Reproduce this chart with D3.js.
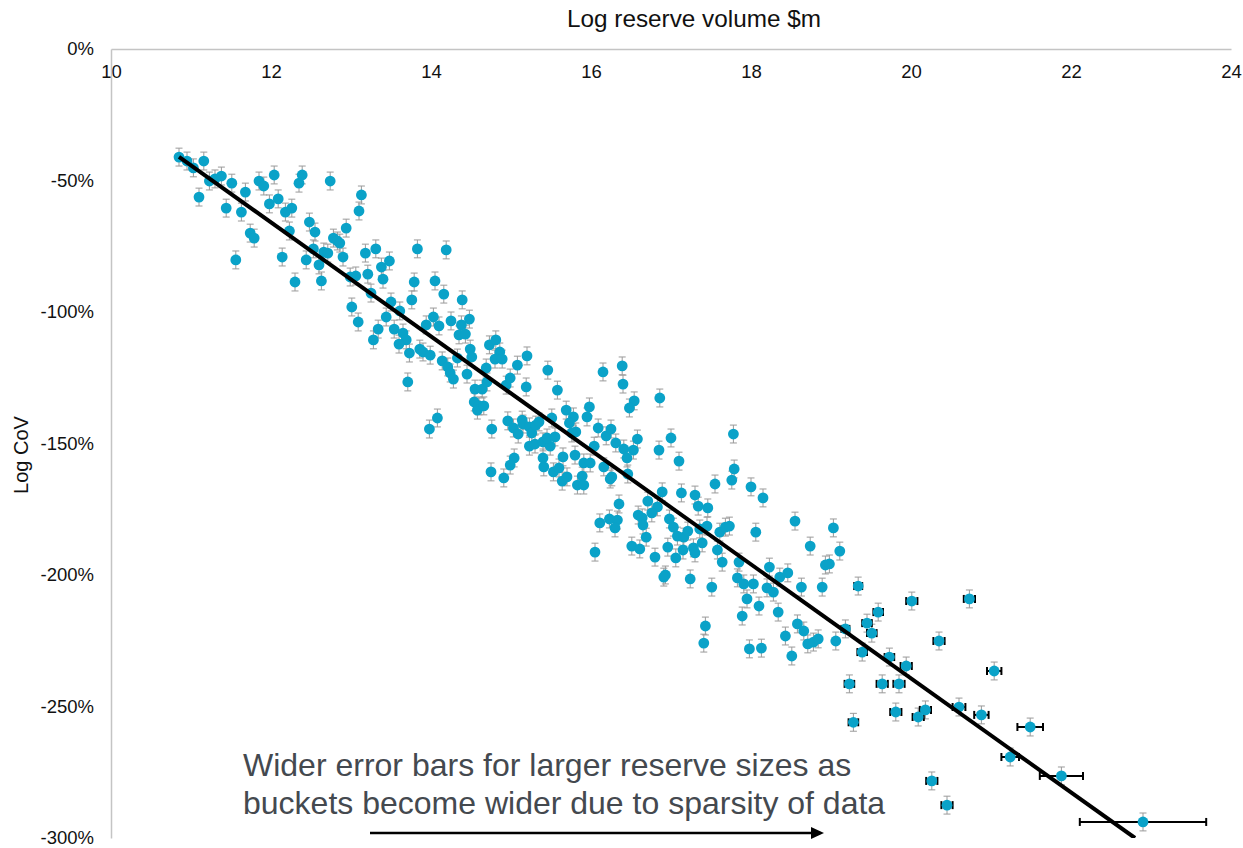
<!DOCTYPE html>
<html>
<head>
<meta charset="utf-8">
<script src="https://cdn.jsdelivr.net/npm/d3@7"></script>
<style>
  html, body { margin: 0; padding: 0; background: #fff; }
  svg { display: block; font-family: "Liberation Sans", Arial, sans-serif; }
</style>
</head>
<body>
<svg id="chart" width="1243" height="848"></svg>
<script>
// Axis ticks
const xTicks = [10, 12, 14, 16, 18, 20, 22, 24];
const yTicks = [0, -50, -100, -150, -200, -250, -300];

// Bucketed observations: [log reserve volume, log CoV %, optional bucket half-width]
const points = [
[10.85,-41.1],[10.95,-42.6],[11.03,-45.2],[11.16,-42.6],[11.23,-50.2],[11.30,-49.4],[11.38,-48.3],[11.10,-56.3],[11.44,-60.5],[11.51,-51.0],
[11.63,-62.0],[11.68,-54.4],[11.56,-80.2],[11.74,-70.0],[11.79,-71.9],[11.85,-50.2],[11.91,-52.1],[12.04,-47.9],[11.98,-58.9],[12.09,-57.0],
[12.18,-62.0],[12.26,-60.5],[12.23,-69.2],[12.14,-79.1],[12.35,-51.0],[12.39,-47.9],[12.74,-50.2],[12.48,-65.8],[12.55,-69.6],[12.53,-76.0],
[12.44,-80.2],[12.60,-82.1],[12.30,-88.6],[12.63,-88.2],[12.66,-77.2],[12.71,-77.6],[12.78,-71.9],[12.83,-73.0],[12.86,-73.8],[12.94,-68.1],
[12.90,-79.1],[13.13,-55.5],[13.10,-61.6],[13.18,-77.6],[13.31,-76.0],[13.38,-82.9],[13.48,-80.6],[13.40,-87.5],[13.21,-85.6],[13.06,-86.3],
[12.99,-86.7],[13.25,-92.8],[13.01,-98.1],[13.09,-103.8],[13.28,-110.6],[13.34,-106.5],[13.44,-101.9],[13.50,-96.2],[13.54,-106.5],[13.61,-99.6],
[13.65,-108.0],[13.69,-110.6],[13.60,-112.2],[13.73,-115.6],[13.71,-126.6],[13.76,-95.4],[13.79,-88.6],[13.83,-76.0],[14.05,-88.2],[14.16,-93.2],
[14.19,-76.4],[13.86,-114.1],[13.90,-115.2],[13.99,-116.4],[13.94,-104.9],[14.03,-101.9],[14.10,-105.3],[14.14,-118.6],[14.21,-120.9],[14.24,-123.2],
[14.25,-103.4],
[14.28,-125.5],[14.38,-104.9],[14.35,-108.7],[14.43,-108.4],[14.39,-95.4],[14.48,-102.7],[14.33,-117.5],[14.45,-123.6],[14.49,-114.1],[14.51,-117.1],
[14.08,-140.3],[13.98,-144.5],[14.54,-134.2],[14.60,-135.7],[14.58,-137.3],[14.66,-135.7],[14.55,-129.3],[14.64,-129.3],[14.69,-121.3],[14.70,-126.6],
[14.73,-112.5],[14.81,-110.6],[14.86,-115.2],[14.80,-117.9],[14.89,-117.9],[14.76,-144.5],[14.94,-127.8],[14.99,-125.1],[15.08,-120.2],[15.20,-116.7],
[15.19,-128.5],[15.46,-122.1],[15.58,-129.7],[14.96,-141.4],[15.03,-144.1],[15.09,-146.4],[15.14,-141.1],[15.15,-142.6],[15.23,-143.7],[15.26,-146.0],
[15.31,-143.0],[15.35,-141.8],[15.23,-151.0],[15.30,-150.2],[15.40,-149.4],[15.49,-151.0],[15.45,-147.9],[15.55,-147.5],[15.51,-140.3],[15.69,-137.3],
[15.78,-139.9],[15.73,-142.2],[15.81,-145.6],[15.76,-146.0],[15.04,-155.5],[15.40,-155.5],[15.65,-155.1],[15.80,-154.4],
[14.75,-160.8],[14.91,-163.1],[14.99,-158.2],[15.95,-139.9],[15.98,-136.1],[16.15,-122.8],[16.39,-120.5],[16.40,-127.4],[16.54,-133.8],[16.48,-136.5],
[16.86,-132.7],[17.00,-147.9],[17.10,-156.7],[16.85,-152.5],[16.09,-144.1],[16.19,-147.1],[16.25,-144.5],[16.31,-149.8],[16.41,-152.1],[16.53,-152.5],
[16.58,-148.3],[16.04,-151.0],[16.45,-155.5],[16.46,-161.6],[16.26,-162.7],[16.24,-163.5],[16.16,-158.9],[15.91,-157.4],[15.99,-157.4],[15.41,-158.9],
[15.53,-160.8],[15.60,-159.3],[15.64,-164.3],[15.70,-162.7],[15.89,-162.4],[15.83,-165.8],[15.91,-165.8],[16.89,-168.4],[17.13,-168.8],[17.30,-169.6],
[17.34,-173.8],[17.46,-174.5],[16.35,-173.0],[16.71,-171.9],[16.83,-174.1],[16.76,-176.4],[16.59,-177.2],[16.64,-178.3],[16.65,-181.0],[16.11,-180.2],
[16.23,-178.7],[16.33,-179.1],[16.30,-182.1],[16.69,-185.6],[16.98,-178.7],[17.03,-181.8],[17.08,-185.2],[17.16,-185.6],[17.21,-183.3],[17.45,-181.4],
[17.39,-187.8],[17.28,-189.7],[17.15,-190.5],[16.96,-189.4],[16.51,-189.0],[16.61,-190.1],[16.05,-191.3],[16.80,-193.2],[17.06,-193.5],
[16.93,-200.0],[16.91,-200.8],[17.30,-191.6],[17.36,-182.5],[17.55,-165.4],[17.76,-163.9],[17.79,-159.7],[18.00,-166.5],[18.15,-170.7],[17.58,-190.5],
[17.61,-183.7],[17.64,-195.1],[17.68,-181.8],[17.73,-181.4],[17.24,-201.5],[17.51,-204.6],[17.83,-201.1],[17.85,-195.1],[17.91,-203.4],[18.03,-203.4],
[17.95,-209.1],[18.10,-211.8],[17.89,-215.6],[18.06,-183.7],[18.23,-197.0],[18.36,-200.8],[18.46,-199.2],[18.34,-214.1],[18.20,-204.9],[18.28,-206.5],
[18.55,-179.5],[18.74,-189.0],[18.63,-204.6],[18.89,-204.6],[19.03,-182.1],[18.93,-196.2],[18.98,-195.8],[19.11,-190.9],[17.43,-219.4],[17.41,-225.9],
[17.98,-228.1],[18.13,-227.8],[18.43,-223.2],[18.58,-218.6],[18.66,-221.3],[18.51,-230.8],[18.71,-226.2],[18.78,-225.5],[18.84,-224.3],[19.06,-225.1],
[17.78,-146.4],
[19.34,-204.2,0.05],[19.18,-220.5,0.05],[19.39,-229.3,0.06],[19.45,-218.3,0.06],[19.51,-222.1,0.06],[19.59,-214.1,0.06],[19.73,-231.2,0.06],
[19.94,-234.6,0.07],[20.01,-209.9,0.07],[20.35,-225.1,0.07],
[19.23,-241.4,0.06],[19.64,-241.4,0.07],[19.85,-241.4,0.07],[19.81,-252.1,0.07],[20.09,-254.0,0.07],[20.18,-251.3,0.07],[19.28,-256.0,0.06],
[20.73,-209.1,0.07],[21.04,-236.5,0.09],[20.60,-250.2,0.08],[20.88,-253.2,0.09],[21.49,-257.8,0.16],[21.24,-269.2,0.11],
[21.88,-276.4,0.27],[20.26,-278.3,0.07],[20.45,-287.5,0.07],[22.90,-293.9,0.79]
];

const defaultBucketHalfWidth = 0.02; // narrow buckets where data is dense
const yErr = 3.4;                     // standard error on log CoV (%)

// Fitted trend endpoints [x, y%]
const trend = [[10.85, -41.0], [22.8, -300.0]];

const annotationLines = [
  "Wider error bars for larger reserve sizes as",
  "buckets become wider due to sparsity of data"
];

const svg = d3.select("#chart");
const plot = { left: 111, right: 1231, top: 49, bottom: 838 };

const x = d3.scaleLinear().domain([10, 24]).range([plot.left, plot.right]);
const y = d3.scaleLinear().domain([0, -300]).range([plot.top, plot.bottom]);

const axisColor = "#c4c4c4";
const fontFamily = "'Liberation Sans', Arial, sans-serif";

// X axis along the 0% line, labels below it
const gx = svg.append("g")
  .attr("transform", `translate(0,${plot.top})`)
  .call(d3.axisBottom(x).tickValues(xTicks).tickSize(0).tickPadding(16).tickFormat(d3.format("d")));
gx.select(".domain").attr("stroke", axisColor).attr("stroke-width", 1.5);
gx.selectAll("text").attr("font-size", 18.5).attr("fill", "#111").attr("font-family", fontFamily);

// Y axis
const gy = svg.append("g")
  .attr("transform", `translate(${plot.left},0)`)
  .call(d3.axisLeft(y).tickValues(yTicks).tickSize(0).tickPadding(17).tickFormat(d => (d === 0 ? 0 : d) + "%"));
gy.select(".domain").attr("stroke", axisColor).attr("stroke-width", 1.5);
gy.selectAll("text").attr("font-size", 18.5).attr("fill", "#111").attr("font-family", fontFamily);

// Axis titles
svg.append("text")
  .attr("x", (plot.left + plot.right) / 2 + 23).attr("y", 27)
  .attr("text-anchor", "middle")
  .attr("font-size", 24.3).attr("fill", "#111")
  .text("Log reserve volume $m");

svg.append("text")
  .attr("transform", `translate(28,455) rotate(-90)`)
  .attr("text-anchor", "middle")
  .attr("font-size", 20).attr("fill", "#111")
  .text("Log CoV");

// Clip for marks inside the plot area
svg.append("defs").append("clipPath").attr("id", "plotClip")
  .append("rect")
  .attr("x", plot.left).attr("y", plot.top)
  .attr("width", plot.right - plot.left + 20).attr("height", plot.bottom - plot.top);

const marks = svg.append("g").attr("clip-path", "url(#plotClip)");

const bars = marks.append("g");
const capV = 3.5, capH = 4;

// Vertical (grey) error bars
const vb = bars.append("g").attr("stroke", "#9a9a9a").attr("stroke-width", 1);
points.forEach(p => {
  const cx = x(p[0]), y0 = y(p[1] + yErr), y1 = y(p[1] - yErr);
  vb.append("line").attr("x1", cx).attr("x2", cx).attr("y1", y0).attr("y2", y1);
  vb.append("line").attr("x1", cx - capV).attr("x2", cx + capV).attr("y1", y0).attr("y2", y0);
  vb.append("line").attr("x1", cx - capV).attr("x2", cx + capV).attr("y1", y1).attr("y2", y1);
});

// Horizontal (black) error bars: bucket width
const hb = bars.append("g").attr("stroke", "#000").attr("stroke-width", 2);
points.forEach(p => {
  const hw = p[2] !== undefined ? p[2] : defaultBucketHalfWidth;
  const cy = y(p[1]), x0 = x(p[0] - hw), x1 = x(p[0] + hw);
  hb.append("line").attr("x1", x0).attr("x2", x1).attr("y1", cy).attr("y2", cy);
  hb.append("line").attr("x1", x0).attr("x2", x0).attr("y1", cy - capH).attr("y2", cy + capH);
  hb.append("line").attr("x1", x1).attr("x2", x1).attr("y1", cy - capH).attr("y2", cy + capH);
});

// Markers
marks.append("g").selectAll("circle")
  .data(points).join("circle")
  .attr("cx", d => x(d[0])).attr("cy", d => y(d[1]))
  .attr("r", 5.4).attr("fill", "#0aa2c8");

// Trend line
marks.append("path")
  .datum(trend)
  .attr("d", d3.line().x(d => x(d[0])).y(d => y(d[1])))
  .attr("stroke", "#000").attr("stroke-width", 4).attr("fill", "none");

// Annotation
const note = svg.append("text")
  .attr("font-size", 32).attr("fill", "#44494f").attr("font-family", fontFamily);
annotationLines.forEach((t, i) => {
  note.append("tspan").attr("x", 243).attr("y", 776 + i * 38).text(t);
});

// Arrow
const ax0 = 370, ax1 = 824, ay = 833;
svg.append("line")
  .attr("x1", ax0).attr("x2", ax1 - 10).attr("y1", ay).attr("y2", ay)
  .attr("stroke", "#000").attr("stroke-width", 2.5);
svg.append("path")
  .attr("d", `M${ax1},${ay} L${ax1 - 13},${ay - 6} L${ax1 - 13},${ay + 6} Z`)
  .attr("fill", "#000");
</script>
</body>
</html>
